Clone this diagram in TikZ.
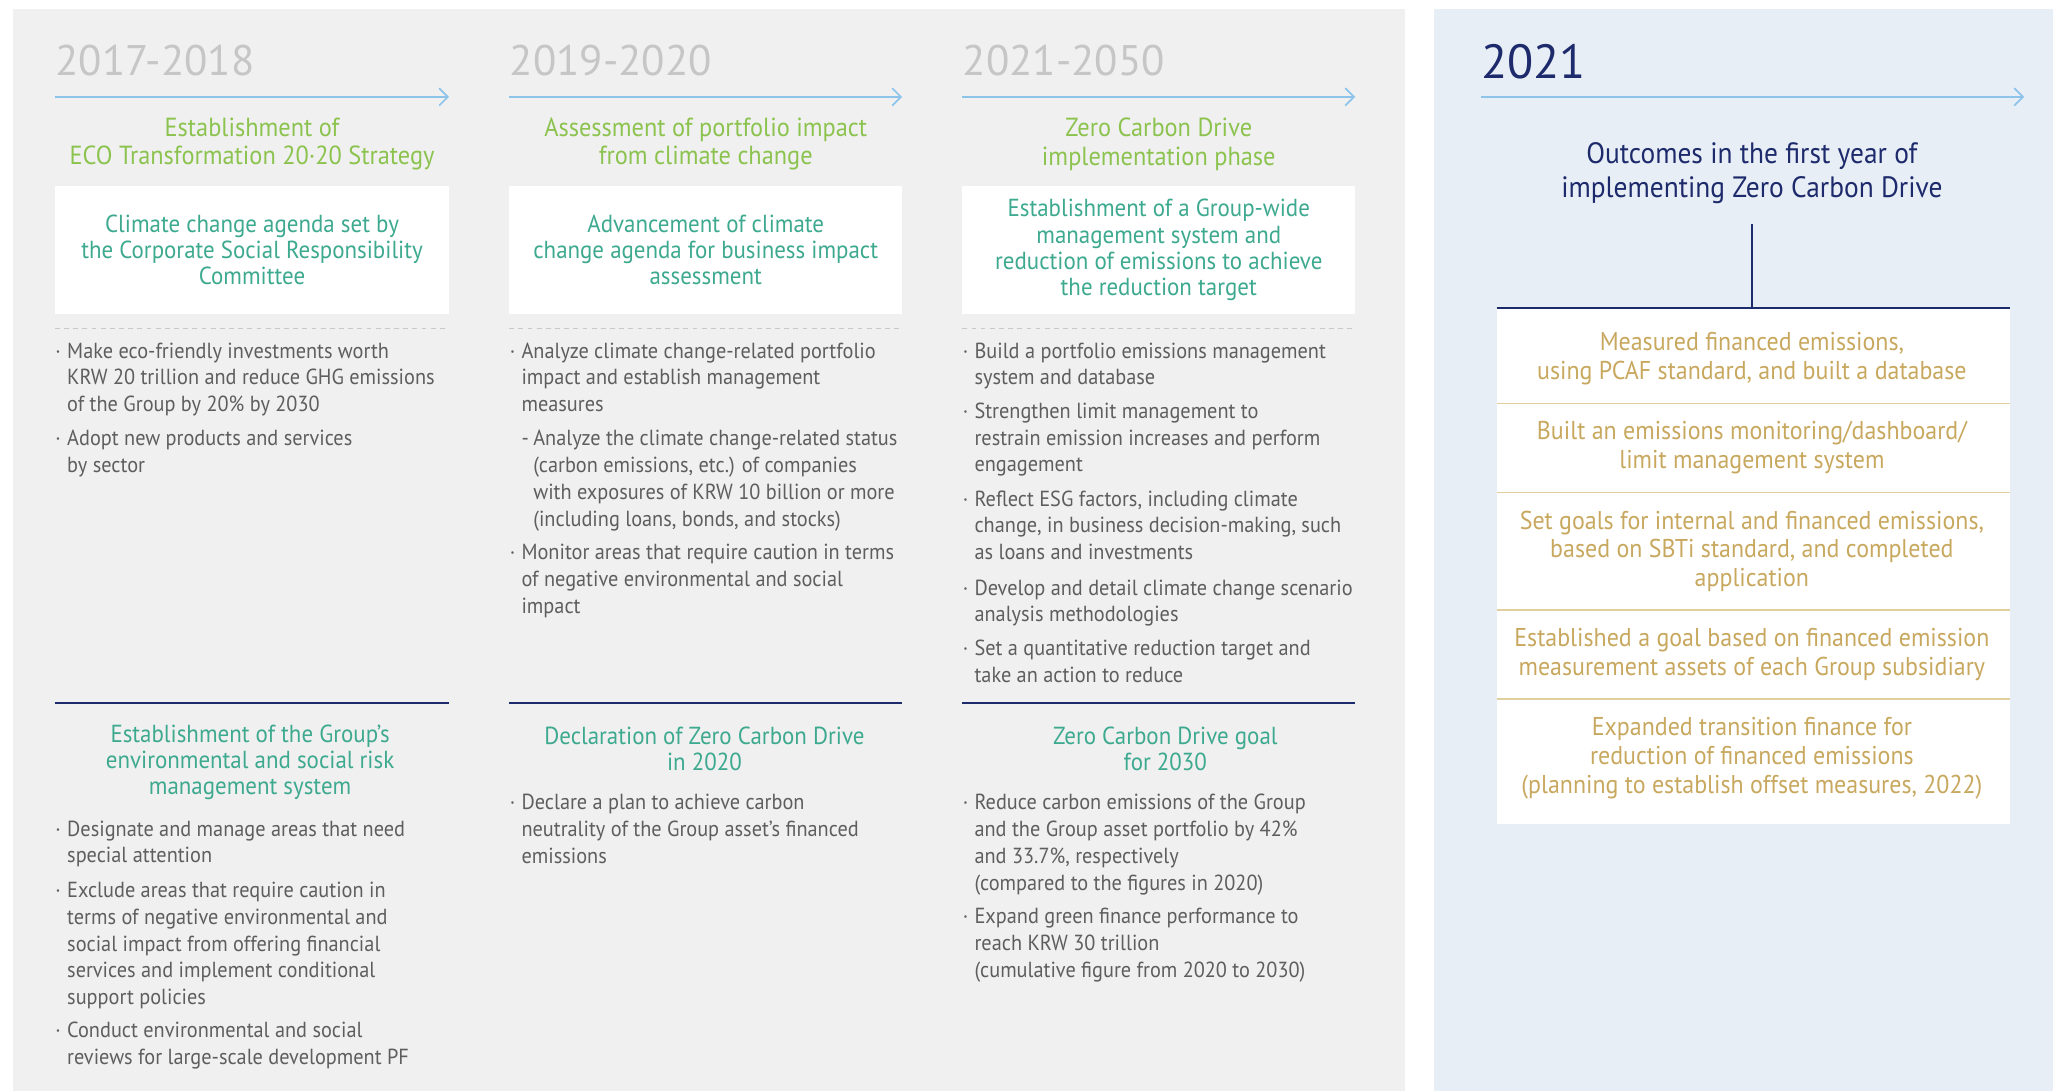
\documentclass[tikz,border=0pt]{standalone}
\usepackage{fontspec}
\setmainfont{PT Sans}[FakeStretch=0.93]
\newfontfamily\yearfont{PT Sans}
\usetikzlibrary{arrows.meta}
\definecolor{graybg}{HTML}{F0F0F0}
\definecolor{bluebg}{HTML}{E8EEF6}
\definecolor{yeargray}{HTML}{C6C6C6}
\definecolor{arrowblue}{HTML}{8EC3EA}
\definecolor{ttlgreen}{HTML}{8CC34F}
\definecolor{tealc}{HTML}{3DA98F}
\definecolor{bodygray}{HTML}{5E5E5E}
\definecolor{navyc}{HTML}{1D2A6B}
\definecolor{goldc}{HTML}{C8A85E}
\definecolor{goldline}{HTML}{E2CF9E}
\definecolor{dashgray}{HTML}{C8C8C8}
\tikzset{
  bodyt/.style={font=\fontsize{10}{12.24}\selectfont, text=bodygray, inner sep=0pt, align=left, anchor=north west},
  yeart/.style={font=\yearfont\fontsize{19.6}{24}\selectfont, text=yeargray, inner sep=0pt, anchor=west},
  greent/.style={font=\fontsize{12}{13.2}\selectfont, text=ttlgreen, align=center, inner sep=0pt},
  boxt/.style={font=\fontsize{11.3}{12}\selectfont, text=tealc, align=center, inner sep=0pt},
  goldt/.style={font=\fontsize{11.8}{13.2}\selectfont, text=goldc, align=center, inner sep=0pt},
  navyt/.style={font=\fontsize{13.5}{15.6}\selectfont, text=navyc, align=center, inner sep=0pt},
  tline/.style={draw=arrowblue, line width=0.8pt, -{Straight Barb[length=4pt,width=8pt,line width=0.8pt]}},
  dline/.style={draw=dashgray, line width=0.6pt, dash pattern=on 2.2pt off 2pt},
  navyline/.style={draw=navyc, line width=0.8pt},
  goldsep/.style={draw=goldline, line width=0.7pt}
}
\newcommand\bitem[4]{%
  \node[bodyt] (#1d) at (#2,#3-9) {\strut·};
  \node[bodyt] (#1) at (#2+9,#3-9) {\strut #4};
}
\begin{document}
\begin{tikzpicture}[x=0.6pt,y=-0.6pt]
\useasboundingbox (0,0) rectangle (1568,833);
\fill[white] (0,0) rectangle (1568,833);
% panels
\fill[graybg] (10,7) rectangle (1073,833);
\fill[bluebg] (1095,7) rectangle (1568,833);

% ===== Column 1 =====
\node[yeart] (y1) at (42,46) {2017-2018};
\coordinate (a1s) at (42,74); \coordinate (a1e) at (343,74);
\draw[tline] (a1s) -- (a1e);
\node[greent] (g1) at (192.5,110) {Establishment of\\ECO Transformation 20·20 Strategy};
\fill[white] (42,142) rectangle (343,240);
\node[boxt] (b1) at (192.5,191) {Climate change agenda set by\\the Corporate Social Responsibility\\Committee};
\coordinate (d1s) at (42,251); \coordinate (d1e) at (343,251);
\draw[dline] (d1s) -- (d1e);
\bitem{c1a}{42}{268}{Make eco-friendly investments worth\\KRW 20 trillion and reduce GHG emissions\\of the Group by 20\% by 2030}
\bitem{c1b}{42}{335}{Adopt new products and services\\by sector}
\coordinate (n1s) at (42,537); \coordinate (n1e) at (343,537);
\draw[navyline] (n1s) -- (n1e);
\node[boxt] (h1) at (191,582) {Establishment of the Group’s\\environmental and social risk\\management system};
\bitem{c1c}{42}{633}{Designate and manage areas that need\\special attention}
\bitem{c1d}{42}{680}{Exclude areas that require caution in\\terms of negative environmental and\\social impact from offering financial\\services and implement conditional\\support policies}
\bitem{c1e}{42}{787}{Conduct environmental and social\\reviews for large-scale development PF}

% ===== Column 2 =====
\node[yeart] (y2) at (389,46) {2019-2020};
\coordinate (a2s) at (389,74); \coordinate (a2e) at (689,74);
\draw[tline] (a2s) -- (a2e);
\node[greent] (g2) at (539,110) {Assessment of portfolio impact\\from climate change};
\fill[white] (389,142) rectangle (689,240);
\node[boxt] (b2) at (539,191) {Advancement of climate\\change agenda for business impact\\assessment};
\coordinate (d2s) at (389,251); \coordinate (d2e) at (689,251);
\draw[dline] (d2s) -- (d2e);
\bitem{c2a}{389}{268}{Analyze climate change-related portfolio\\impact and establish management\\measures}
\node[bodyt] (c2sd) at (398,326) {\strut -};
\node[bodyt] (c2s) at (407,326) {\strut Analyze the climate change-related status\\(carbon emissions, etc.) of companies\\with exposures of KRW 10 billion or more\\(including loans, bonds, and stocks)};
\bitem{c2b}{389}{422}{Monitor areas that require caution in terms\\of negative environmental and social\\impact}
\coordinate (n2s) at (389,537); \coordinate (n2e) at (689,537);
\draw[navyline] (n2s) -- (n2e);
\node[boxt] (h2) at (538,572) {Declaration of Zero Carbon Drive\\in 2020};
\bitem{c2c}{389}{613}{Declare a plan to achieve carbon\\neutrality of the Group asset’s financed\\emissions}

% ===== Column 3 =====
\node[yeart] (y3) at (735,46) {2021-2050};
\coordinate (a3s) at (735,74); \coordinate (a3e) at (1035,74);
\draw[tline] (a3s) -- (a3e);
\node[greent] (g3) at (885,110) {Zero Carbon Drive\\implementation phase};
\fill[white] (735,142) rectangle (1035,240);
\node[boxt] (b3) at (885,191) {Establishment of a Group-wide\\management system and\\reduction of emissions to achieve\\the reduction target};
\coordinate (d3s) at (735,251); \coordinate (d3e) at (1035,251);
\draw[dline] (d3s) -- (d3e);
\bitem{c3a}{735}{268}{Build a portfolio emissions management\\system and database}
\bitem{c3b}{735}{314}{Strengthen limit management to\\restrain emission increases and perform\\engagement}
\bitem{c3c}{735}{381}{Reflect ESG factors, including climate\\change, in business decision-making, such\\as loans and investments}
\bitem{c3d}{735}{449}{Develop and detail climate change scenario\\analysis methodologies}
\bitem{c3e}{735}{495}{Set a quantitative reduction target and\\take an action to reduce}
\coordinate (n3s) at (735,537); \coordinate (n3e) at (1035,537);
\draw[navyline] (n3s) -- (n3e);
\node[boxt] (h3) at (890,572) {Zero Carbon Drive goal\\for 2030};
\bitem{c3f}{735}{613}{Reduce carbon emissions of the Group\\and the Group asset portfolio by 42\%\\and 33.7\%, respectively\\(compared to the figures in 2020)}
\bitem{c3g}{735}{700}{Expand green finance performance to\\reach KRW 30 trillion\\(cumulative figure from 2020 to 2030)}

% ===== 2021 panel =====
\node[yeart, text=navyc, font=\yearfont\fontsize{22}{26}\selectfont] (y4) at (1131,47) {2021};
\coordinate (a4s) at (1131,74); \coordinate (a4e) at (1546,74);
\draw[tline] (a4s) -- (a4e);
\node[navyt] (out) at (1338,132) {Outcomes in the first year of\\implementing Zero Carbon Drive};
\fill[white] (1143,235) rectangle (1535,629);
\coordinate (vt) at (1338,171); \coordinate (vb) at (1338,235);
\draw[navyline] (vt) -- (vb);
\coordinate (hl) at (1143,235); \coordinate (hr) at (1535,235);
\draw[navyline] (hl) -- (hr);
\foreach \yy/\nm in {308/s1,376/s2,466/s3,534/s4}{
  \coordinate (\nm l) at (1143,\yy); \coordinate (\nm r) at (1535,\yy);
  \draw[goldsep] (\nm l) -- (\nm r);
}
\node[goldt] (o1) at (1338,274) {Measured financed emissions,\\using PCAF standard, and built a database};
\node[goldt] (o2) at (1338,342) {Built an emissions monitoring/dashboard/\\limit management system};
\node[goldt] (o3) at (1338,421) {Set goals for internal and financed emissions,\\based on SBTi standard, and completed\\application};
\node[goldt] (o4) at (1338,500) {Established a goal based on financed emission\\measurement assets of each Group subsidiary};
\node[goldt] (o5) at (1338,579) {Expanded transition finance for\\reduction of financed emissions\\(planning to establish offset measures, 2022)};
\end{tikzpicture}
\end{document}
